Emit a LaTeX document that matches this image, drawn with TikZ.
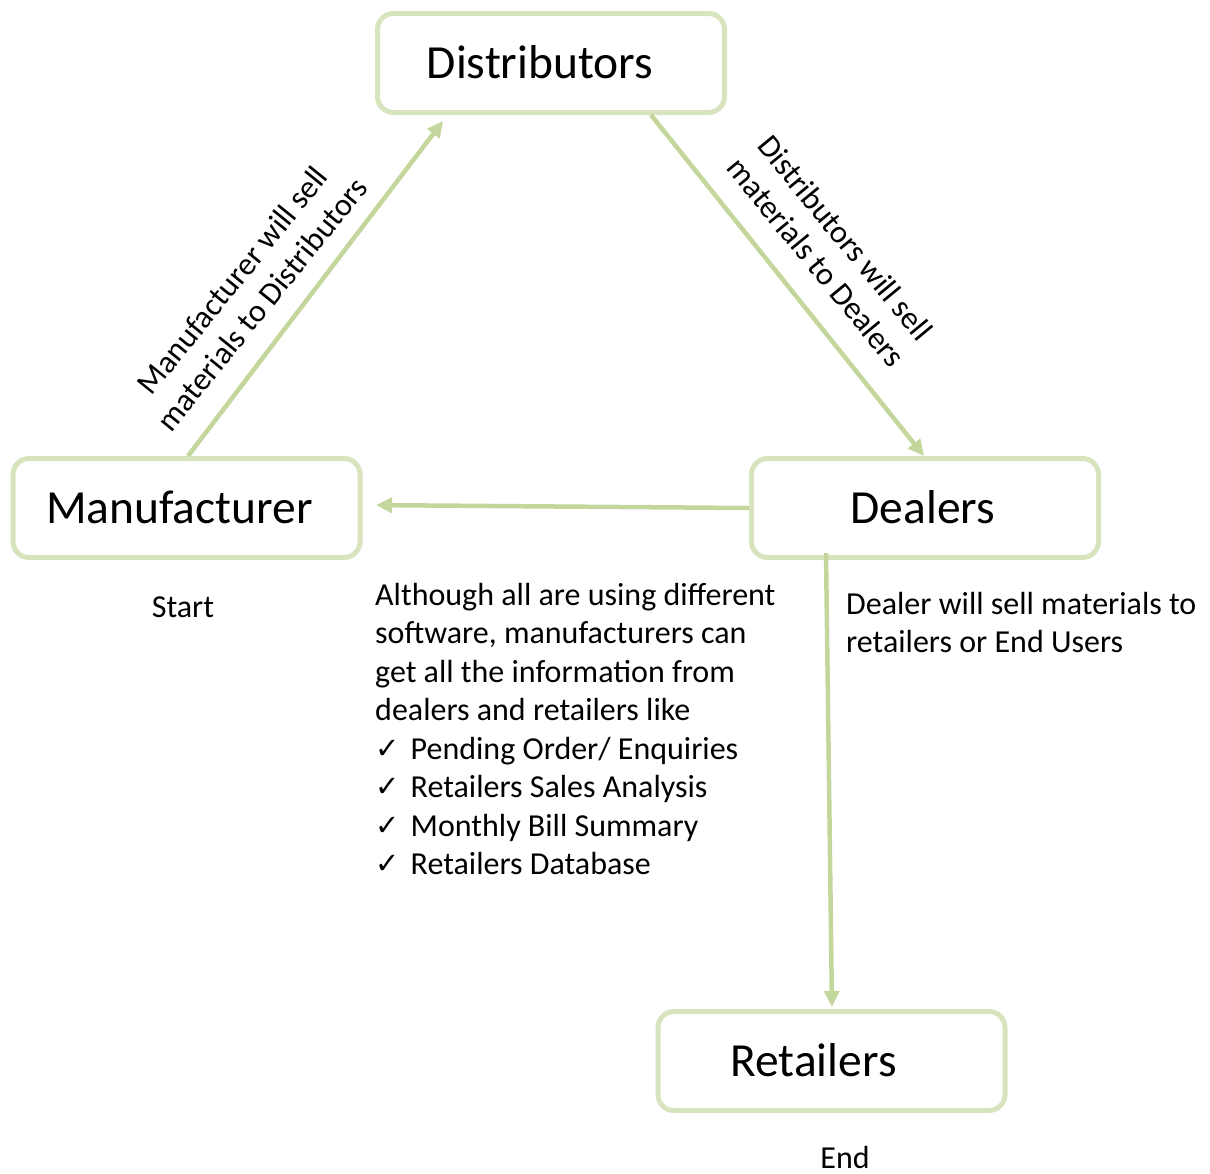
\documentclass[tikz,border=0pt]{standalone}
\usepackage{fontspec}
\setmainfont{Carlito}
\newfontfamily\dejavu{DejaVu Sans}
\usetikzlibrary{arrows.meta}
\definecolor{boxline}{HTML}{D7E4BD}
\definecolor{arrowline}{HTML}{C3D69B}
\newcommand{\chk}{\makebox[35.5pt][l]{\raisebox{1pt}{\dejavu\fontsize{29}{29}\selectfont ✓}}}
\tikzset{
  stagebox/.style={draw=boxline, line width=5pt, rounded corners=16pt, minimum width=347pt, minimum height=99pt,
    inner sep=0pt, font=\fontsize{47.5}{56}\selectfont, text height=30pt, text depth=0pt},
  flow/.style={draw=arrowline, line width=4.5pt, -{Triangle[length=16pt,width=15pt]}},
  bodytext/.style={inner sep=0pt, align=left, font=\fontsize{32}{38.43}\selectfont},
  slanted/.style={inner sep=0pt, align=center, font=\fontsize{32}{38}\selectfont}
}
\begin{document}
\begin{tikzpicture}[x=1pt,y=-1pt]
\useasboundingbox (0,0) rectangle (1210,1173);
\node[stagebox] (dist) at (551,63) {\hspace*{-22pt}Distributors};
\node[stagebox] (manuf) at (186.5,508) {\hspace*{-14pt}Manufacturer};
\node[stagebox] (deal) at (925,508) {\hspace*{-4pt}Dealers};
\node[stagebox] (ret) at (831.5,1061) {\hspace*{-36pt}Retailers};

\draw[flow, shorten >=7.5pt] ([xshift=1.5pt]manuf.north) -- ([xshift=-103.4pt]dist.south);
\draw[flow] ([xshift=100pt]dist.south) -- ([xshift=-1pt]deal.north);
\draw[flow, shorten >=13.5pt] (deal.west) -- ([yshift=3pt]manuf.east);
\draw[flow, shorten >=2pt] ([xshift=-99pt,yshift=7pt]deal.south) -- ([xshift=0.5pt]ret.north);

\node[slanted, rotate=51] (lblmd) at (247,292) {Manufacturer will sell\\materials to Distributors};
\node[slanted, rotate=-50.5] (lbldd) at (831,250) {Distributors will sell\\materials to Dealers};

\node[bodytext, anchor=base] (start) at (183,617) {Start};
\node[bodytext, anchor=base] (end) at (845,1168) {End};
\node[bodytext, anchor=north west] (dealnote) at (846,592) {Dealer will sell materials to\\retailers or End Users};
\node[bodytext, anchor=north west] (info) at (375,583) {Although all are using different\\software, manufacturers can\\get all the information from\\dealers and retailers like\\\chk Pending Order/ Enquiries\\\chk Retailers Sales Analysis\\\chk Monthly Bill Summary\\\chk Retailers Database};
\end{tikzpicture}
\end{document}
